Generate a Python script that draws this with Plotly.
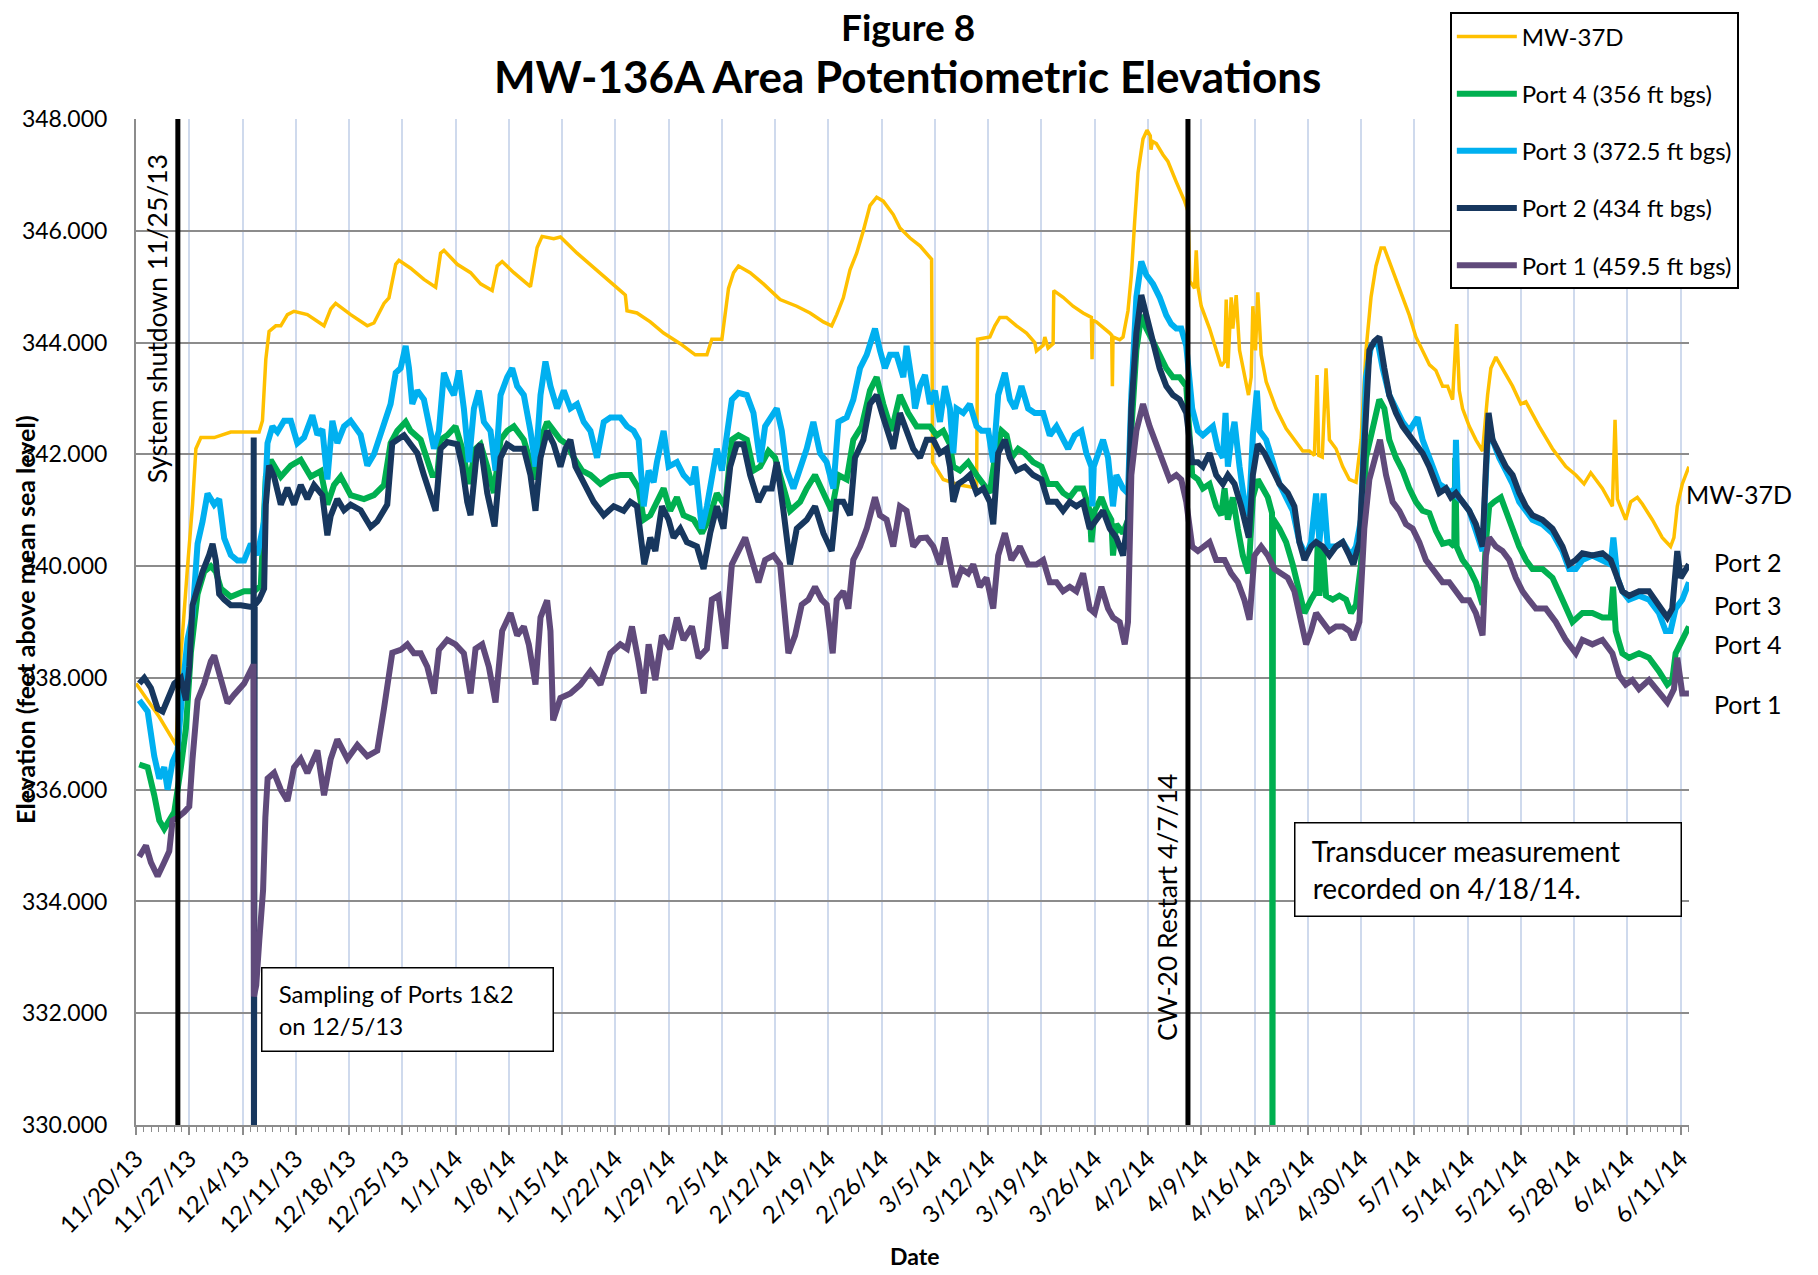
import pandas as pd
import plotly.graph_objects as go

START = pd.Timestamp("2013-11-20")
END_DAY = 204.1

# (days after 11/20/13, elevation ft amsl)
mw37d = [(0.0,337.9),(3.06,337.3),(5.25,336.8),(5.9,338.4),(6.78,340.0),(7.43,341.1),(7.87,342.1),(8.53,342.3),(10.28,342.3),(12.46,342.4),(16.18,342.4),(16.62,342.6),(17.06,343.7),(17.49,344.2),(18.37,344.3),(19.03,344.3),(19.9,344.5),(20.77,344.56),(22.52,344.5),(24.71,344.3),(25.59,344.6),(26.24,344.7),(28.21,344.5),(30.4,344.3),(31.27,344.35),(32.59,344.7),(33.24,344.8),(34.13,345.4),(34.56,345.47),(36.09,345.33),(37.84,345.13),(39.38,344.99),(40.03,345.6),(40.47,345.65),(42.22,345.4),(43.97,345.25),(45.28,345.05),(46.81,344.93),(47.47,345.37),(48.12,345.45),(49.66,345.25),(51.84,345.0),(52.72,345.7),(53.37,345.9),(54.9,345.86),(55.78,345.89),(57.97,345.6),(60.59,345.3),(63.65,344.93),(64.31,344.85),(64.53,344.57),(65.84,344.53),(67.59,344.37),(69.34,344.17),(71.53,343.98),(73.5,343.78),(75.03,343.78),(75.68,344.06),(77.0,344.06),(77.87,344.97),(78.53,345.25),(79.18,345.37),(80.71,345.25),(82.46,345.05),(84.65,344.77),(86.84,344.65),(88.59,344.53),(90.34,344.37),(91.43,344.3),(92.09,344.5),(92.96,344.8),(93.84,345.3),(94.71,345.6),(95.59,346.0),(96.46,346.45),(97.34,346.6),(98.21,346.53),(99.52,346.29),(100.4,346.05),(101.72,345.87),(103.03,345.73),(104.56,345.49),(104.69,341.86),(106.09,341.55),(108.28,341.45),(110.47,341.4),(110.6,344.06),(112.22,344.1),(112.87,344.3),(113.53,344.45),(114.41,344.45),(115.72,344.3),(117.03,344.17),(118.12,344.0),(118.34,343.85),(119.22,343.95),(119.44,344.1),(119.87,343.9),(120.53,343.98),(120.62,344.93),(121.84,344.81),(123.15,344.65),(124.47,344.53),(125.56,344.45),(125.65,343.7),(125.74,344.4),(126.22,344.37),(127.97,344.17),(128.23,344.13),(128.32,343.22),(128.4,344.1),(129.28,344.05),(129.72,344.1),(130.37,344.57),(130.81,345.2),(131.25,346.17),(131.69,347.04),(132.34,347.64),(132.87,347.8),(133.3,347.7),(133.39,347.45),(133.57,347.6),(134.09,347.56),(134.97,347.36),(135.62,347.24),(136.7,346.88),(137.81,346.53),(138.25,346.35),(138.5,345.1),(139.12,344.97),(139.34,345.65),(139.56,345.0),(140.0,344.65),(141.09,344.25),(141.96,343.86),(142.62,343.58),(143.06,343.66),(143.28,344.77),(143.5,343.54),(143.93,344.81),(144.15,344.25),(144.59,344.85),(145.03,343.86),(145.68,343.38),(146.21,343.06),(146.56,343.38),(146.78,344.65),(147.13,343.86),(147.43,344.9),(147.87,343.78),(148.53,343.3),(149.84,342.82),(151.15,342.46),(152.46,342.22),(153.34,342.06),(154.21,342.06),(154.87,341.98),(155.22,343.42),(155.44,341.98),(155.9,341.95),(156.4,343.54),(156.84,342.26),(157.71,342.1),(158.59,341.78),(159.46,341.55),(160.34,341.5),(161.0,342.26),(161.65,343.86),(162.31,344.81),(162.96,345.37),(163.62,345.69),(164.06,345.69),(164.71,345.45),(165.59,345.13),(166.46,344.81),(167.34,344.49),(168.21,344.1),(169.09,343.86),(170.0,343.6),(170.84,343.5),(171.72,343.22),(172.38,343.22),(173.03,342.98),(173.56,344.33),(173.91,343.14),(174.34,342.82),(175.22,342.5),(176.09,342.26),(176.97,342.06),(177.63,343.06),(178.06,343.54),(178.72,343.74),(179.59,343.54),(180.91,343.22),(182.0,342.9),(182.66,342.94),(184.41,342.5),(186.16,342.1),(187.91,341.78),(189.22,341.63),(190.31,341.47),(191.19,341.67),(192.72,341.39),(194.03,341.07),(194.38,342.62),(194.69,341.2),(195.78,340.83),(196.44,341.15),(197.31,341.23),(197.97,341.11),(199.28,340.83),(200.59,340.51),(201.68,340.35),(202.12,340.51),(202.56,341.07),(203.22,341.47),(204.09,341.78)]

port4 = [(0.43,336.45),(1.53,336.4),(2.4,335.9),(3.06,335.45),(3.71,335.3),(4.37,335.45),(5.03,335.6),(5.9,336.4),(6.56,337.1),(7.21,338.45),(8.09,339.5),(8.96,339.9),(9.84,340.0),(10.49,339.9),(11.15,339.6),(12.46,339.45),(14.21,339.55),(15.53,339.55),(16.4,339.65),(17.06,341.6),(17.71,341.9),(19.03,341.6),(20.34,341.8),(21.65,341.9),(22.96,341.6),(24.28,341.7),(25.15,341.1),(26.02,341.45),(26.9,341.6),(28.21,341.27),(29.96,341.2),(31.27,341.27),(32.59,341.45),(33.46,342.2),(34.34,342.42),(35.44,342.58),(36.09,342.42),(37.41,342.26),(38.28,341.94),(38.94,341.63),(39.59,341.63),(40.03,342.26),(40.91,342.34),(41.99,342.5),(42.88,342.1),(43.75,341.47),(44.62,342.1),(45.28,342.18),(46.16,341.78),(47.03,341.31),(47.91,342.26),(48.78,342.42),(49.66,342.5),(50.97,342.26),(51.84,341.86),(52.5,341.55),(53.16,342.26),(54.03,342.58),(54.9,342.42),(55.78,342.26),(56.66,342.18),(57.53,341.94),(58.62,341.71),(59.72,341.63),(61.03,341.47),(62.34,341.59),(63.65,341.63),(64.97,341.63),(66.06,341.39),(66.72,340.83),(67.59,340.91),(68.46,341.15),(69.34,341.39),(70.21,340.99),(71.09,341.23),(71.96,340.91),(73.28,340.83),(74.37,340.59),(75.25,340.83),(76.34,341.3),(77.43,341.07),(78.31,342.26),(79.18,342.34),(80.28,342.26),(81.15,341.71),(82.03,341.78),(83.12,342.06),(83.99,341.94),(84.87,341.47),(85.96,340.99),(87.28,341.15),(88.15,341.39),(89.24,341.63),(90.34,341.31),(91.43,340.99),(92.31,341.63),(93.4,341.55),(94.27,342.26),(95.37,342.5),(96.46,343.14),(97.34,343.38),(98.21,342.9),(99.3,342.42),(100.4,343.06),(101.49,342.74),(102.59,342.5),(103.47,342.5),(104.34,342.5),(105.22,342.34),(106.09,342.42),(106.97,342.18),(107.41,341.78),(108.28,341.71),(109.37,341.86),(110.47,341.63),(111.34,341.47),(112.22,341.31),(112.87,341.94),(113.75,342.42),(114.41,342.34),(115.06,341.94),(115.94,342.1),(116.81,342.02),(117.9,341.86),(119.0,341.78),(119.87,341.47),(120.97,341.47),(121.84,341.31),(122.72,341.23),(123.59,341.39),(124.47,341.39),(125.34,340.99),(125.56,340.43),(126.0,340.99),(126.87,341.23),(127.53,340.99),(128.18,340.83),(128.4,340.19),(128.84,340.75),(129.72,340.59),(130.37,340.83),(130.81,342.42),(131.47,343.86),(132.12,344.49),(132.78,344.25),(133.65,344.02),(134.53,343.78),(135.4,343.54),(136.28,343.38),(137.15,343.38),(138.03,343.22),(138.81,341.63),(139.56,341.55),(140.21,341.39),(141.09,341.47),(141.96,341.07),(142.62,340.91),(143.06,341.39),(143.5,340.83),(144.15,341.23),(144.81,340.67),(145.46,340.19),(146.21,339.87),(146.78,341.23),(147.43,341.55),(148.09,341.39),(148.75,341.23),(149.3,340.95),(149.36,329.0),(149.42,340.85),(150.28,340.67),(151.15,340.43),(152.02,340.03),(152.9,339.47),(153.56,339.16),(154.43,339.4),(155.09,339.55),(155.31,340.43),(155.53,339.47),(155.96,340.35),(156.4,339.47),(157.28,339.4),(158.15,339.47),(159.03,339.4),(159.68,339.16),(160.34,339.31),(160.99,340.03),(161.65,341.94),(162.52,342.5),(163.4,342.98),(164.06,342.82),(164.71,342.26),(165.59,341.94),(166.46,341.71),(167.34,341.39),(168.21,341.15),(169.09,340.99),(169.97,340.95),(170.84,340.63),(171.72,340.4),(172.59,340.43),(173.25,340.35),(173.38,341.94),(173.56,340.35),(174.34,340.11),(175.22,339.95),(176.09,339.71),(176.97,339.31),(177.41,340.43),(177.84,341.07),(178.5,341.15),(179.38,341.23),(180.03,340.99),(180.91,340.67),(181.78,340.35),(182.66,340.11),(183.53,339.95),(184.84,339.95),(186.16,339.79),(187.47,339.4),(188.78,339.0),(190.09,339.16),(191.4,339.16),(192.72,339.08),(193.81,339.08),(194.12,339.63),(194.47,338.84),(195.34,338.44),(196.22,338.36),(197.53,338.44),(198.84,338.36),(200.15,338.12),(201.25,337.88),(201.9,337.96),(202.34,338.44),(203.22,338.68),(204.09,338.92)]

port3 = [(0.43,337.6),(1.53,337.4),(2.4,336.6),(3.06,336.2),(3.71,336.4),(4.15,336.0),(4.81,336.5),(5.46,336.7),(6.12,337.8),(6.78,338.7),(7.43,339.1),(8.09,340.4),(8.75,340.8),(9.4,341.3),(10.28,341.1),(10.93,341.2),(11.59,340.5),(12.46,340.2),(13.34,340.1),(14.21,340.1),(15.09,340.4),(15.96,340.2),(16.84,340.8),(17.28,342.2),(17.93,342.5),(18.59,342.4),(19.46,342.6),(20.34,342.6),(21.21,342.2),(22.09,342.3),(23.18,342.7),(23.84,342.35),(24.49,342.45),(25.15,341.55),(25.81,342.6),(26.46,342.2),(27.34,342.5),(28.21,342.6),(29.52,342.35),(30.4,341.8),(31.27,342.0),(32.59,342.5),(33.46,342.9),(34.13,343.46),(34.78,343.54),(35.44,343.94),(35.88,343.54),(36.31,342.9),(36.97,343.14),(37.84,342.98),(38.5,342.5),(39.16,342.1),(39.81,342.42),(40.47,343.46),(41.13,343.22),(41.78,343.06),(42.44,343.5),(43.09,342.82),(43.75,341.86),(44.41,342.82),(45.06,343.14),(45.72,342.58),(46.59,342.42),(47.25,341.71),(47.91,343.06),(48.78,343.38),(49.44,343.54),(50.09,343.22),(50.97,343.06),(51.84,342.42),(52.5,341.78),(53.16,343.06),(53.81,343.66),(54.47,343.22),(55.34,342.82),(56.22,343.14),(57.09,342.82),(57.97,342.9),(58.84,342.58),(59.72,342.42),(60.59,341.94),(61.47,342.58),(62.34,342.66),(63.65,342.66),(64.53,342.5),(65.4,342.42),(66.06,342.26),(66.72,341.07),(67.37,341.71),(68.03,341.5),(68.46,341.86),(69.34,342.42),(70.0,341.78),(71.09,341.86),(71.96,341.63),(73.06,341.47),(73.5,341.78),(74.37,340.67),(75.03,341.07),(75.9,341.78),(76.34,342.1),(77.0,341.71),(77.65,342.26),(78.31,342.98),(79.18,343.1),(80.28,343.06),(81.15,342.74),(82.03,341.86),(82.68,342.5),(83.56,342.66),(84.21,342.82),(84.87,342.42),(85.53,341.71),(86.4,341.39),(87.28,341.71),(88.15,342.1),(89.02,342.58),(89.9,342.02),(90.77,341.86),(91.65,341.39),(92.31,342.58),(93.4,342.66),(94.27,342.98),(95.15,343.54),(96.03,343.78),(97.12,344.25),(97.77,343.86),(98.43,343.54),(99.09,343.78),(99.96,343.78),(100.84,343.38),(101.27,343.94),(102.15,343.14),(102.38,342.82),(103.03,343.22),(103.69,343.42),(104.34,342.9),(105.0,343.14),(105.66,342.58),(106.31,343.22),(106.97,342.82),(107.41,342.02),(107.84,342.82),(108.72,342.74),(109.59,342.9),(110.47,342.5),(111.13,342.42),(112.0,342.42),(112.66,341.86),(113.31,343.06),(114.19,343.46),(114.84,342.98),(115.5,342.82),(116.37,343.22),(117.25,342.82),(118.12,342.74),(119.22,342.74),(120.09,342.34),(120.97,342.5),(121.84,342.26),(122.5,342.1),(123.37,342.34),(124.25,342.42),(124.9,342.02),(125.56,341.78),(125.69,341.07),(125.87,341.78),(127.09,342.26),(127.75,341.94),(128.4,341.07),(128.84,341.63),(129.72,341.39),(130.37,341.3),(130.81,343.06),(131.47,344.81),(132.12,345.45),(132.78,345.21),(133.65,345.05),(134.53,344.81),(135.4,344.49),(136.06,344.33),(136.72,344.25),(137.37,344.25),(138.03,343.94),(138.81,342.82),(139.56,342.42),(140.21,342.34),(140.87,342.42),(141.53,342.5),(142.18,342.1),(142.84,341.94),(143.19,342.74),(143.5,341.78),(143.93,342.26),(144.37,342.58),(145.03,341.78),(145.68,341.15),(146.25,340.9),(146.78,342.34),(147.31,343.14),(147.65,342.42),(148.53,342.26),(149.4,341.86),(150.28,341.47),(151.15,341.23),(152.02,340.99),(152.9,340.43),(153.78,340.19),(154.43,340.43),(155.09,341.3),(155.53,340.43),(156.09,341.3),(156.62,340.35),(157.71,340.35),(158.59,340.43),(159.68,340.19),(160.34,340.35),(160.99,340.83),(161.65,343.38),(162.31,343.94),(163.18,344.02),(163.84,343.54),(164.71,343.06),(165.59,342.82),(166.46,342.58),(167.34,342.42),(168.43,342.66),(169.09,342.26),(169.96,341.95),(170.63,341.71),(171.28,341.47),(172.16,341.39),(172.81,341.31),(173.38,341.4),(173.47,342.26),(173.69,341.23),(174.34,341.15),(175.22,340.99),(176.09,340.67),(176.97,340.27),(177.41,341.63),(177.76,342.58),(178.28,342.26),(179.16,341.94),(180.03,341.71),(180.91,341.47),(181.78,341.15),(182.66,340.99),(183.53,340.83),(184.84,340.75),(186.16,340.59),(187.47,340.27),(188.34,339.95),(189.22,339.95),(190.09,340.11),(191.4,340.19),(192.72,340.11),(193.81,340.03),(194.16,340.51),(194.69,339.79),(195.34,339.55),(196.22,339.4),(197.53,339.47),(198.84,339.4),(200.15,339.16),(201.03,338.84),(201.68,338.84),(202.34,339.24),(203.22,339.4),(204.09,339.71)]

port2 = [(0.43,337.9),(1.09,338.0),(1.96,337.82),(2.84,337.45),(3.5,337.4),(4.15,337.6),(5.03,337.9),(5.9,338.0),(6.56,337.6),(7.0,338.2),(7.43,339.3),(8.09,339.6),(8.75,339.9),(9.62,340.2),(10.06,340.4),(10.49,340.1),(10.93,339.5),(11.59,339.4),(12.46,339.3),(13.78,339.3),(15.09,339.27),(15.44,339.3),(15.47,342.3),(15.5,329.0),(15.6,339.3),(16.18,339.4),(16.84,339.6),(17.06,341.1),(17.49,341.8),(18.15,341.6),(19.03,341.1),(19.9,341.4),(20.77,341.1),(21.65,341.45),(22.52,341.2),(23.4,341.45),(24.49,341.27),(25.15,340.55),(25.59,340.9),(26.46,341.2),(27.34,341.0),(28.21,341.1),(29.52,341.0),(30.84,340.7),(31.71,340.8),(33.02,341.1),(33.68,342.2),(34.34,342.26),(35.22,342.34),(36.09,342.18),(36.97,342.02),(37.84,341.63),(38.72,341.23),(39.38,340.99),(40.03,342.1),(40.91,342.22),(42.22,342.18),(42.88,341.78),(43.53,341.15),(43.97,340.91),(44.84,342.1),(45.28,342.18),(46.16,341.31),(47.12,340.71),(47.91,341.94),(48.78,342.18),(49.66,342.1),(50.97,342.1),(51.84,341.63),(52.5,340.99),(53.16,341.94),(54.03,342.42),(54.9,342.18),(55.78,341.78),(56.44,342.1),(57.09,342.26),(57.75,341.78),(58.84,341.47),(60.15,341.15),(61.47,340.91),(62.78,341.07),(64.09,340.99),(64.97,341.15),(65.84,341.07),(66.28,340.51),(66.8,340.03),(67.59,340.51),(68.25,340.27),(69.12,341.07),(70.0,340.83),(70.65,340.51),(71.53,340.67),(72.4,340.43),(73.72,340.35),(74.59,339.95),(75.46,340.59),(76.34,341.07),(77.21,340.67),(78.09,341.78),(78.96,342.18),(79.84,342.18),(80.71,341.63),(81.81,341.15),(82.68,341.39),(83.56,341.39),(84.21,341.86),(85.09,340.99),(85.96,340.03),(86.84,340.67),(88.15,340.83),(89.24,341.07),(90.34,340.59),(91.43,340.27),(92.09,341.15),(92.96,341.15),(93.84,340.91),(94.49,341.94),(95.59,342.26),(96.46,342.9),(97.34,343.06),(98.21,342.66),(99.52,342.1),(100.4,342.74),(101.27,342.42),(102.15,342.1),(103.03,341.94),(103.91,342.26),(104.78,342.26),(105.66,342.02),(106.53,342.1),(106.97,341.78),(107.41,341.15),(108.06,341.47),(108.94,341.55),(109.59,341.63),(110.47,341.31),(111.34,341.39),(112.22,341.15),(112.66,340.75),(113.31,342.02),(114.19,342.26),(114.84,341.94),(115.72,341.71),(116.81,341.78),(117.9,341.63),(119.0,341.55),(119.87,341.15),(120.97,341.15),(121.84,340.99),(122.72,341.15),(123.59,341.07),(124.47,341.15),(125.34,340.67),(126.22,340.83),(127.09,340.99),(127.97,340.67),(128.84,340.51),(129.72,340.19),(130.37,340.83),(130.81,342.82),(131.47,344.17),(132.12,344.85),(132.78,344.49),(133.65,343.94),(134.53,343.54),(135.4,343.22),(136.28,343.06),(137.15,342.98),(138.03,342.74),(138.81,341.86),(139.56,341.86),(140.21,341.78),(141.09,342.02),(141.96,341.63),(142.84,341.47),(143.5,341.63),(144.37,341.47),(145.25,341.07),(146.25,340.51),(146.78,341.63),(147.43,342.18),(148.31,342.02),(149.4,341.71),(150.28,341.47),(151.37,341.31),(152.24,341.07),(152.9,340.43),(153.56,340.11),(154.43,340.35),(155.09,340.43),(155.96,340.35),(156.84,340.19),(157.71,340.35),(158.59,340.43),(159.46,340.19),(159.99,340.03),(160.78,340.43),(161.43,342.42),(162.09,343.86),(162.74,344.02),(163.4,344.1),(164.06,343.54),(164.71,343.06),(165.59,342.74),(166.46,342.5),(167.34,342.34),(168.21,342.18),(169.09,342.02),(169.96,341.78),(170.63,341.55),(171.28,341.31),(172.16,341.39),(172.81,341.23),(173.47,341.31),(174.34,341.15),(175.22,340.99),(176.09,340.75),(176.97,340.35),(177.41,341.78),(177.76,342.74),(178.28,342.26),(179.16,342.02),(180.03,341.78),(180.91,341.63),(181.78,341.31),(182.66,341.07),(183.53,340.91),(184.84,340.83),(186.16,340.67),(187.47,340.35),(188.34,340.03),(189.22,340.11),(190.09,340.23),(191.4,340.19),(192.72,340.23),(193.81,340.11),(194.69,339.79),(195.34,339.55),(196.22,339.47),(197.53,339.55),(198.84,339.55),(200.15,339.31),(201.25,339.08),(201.9,339.24),(202.56,340.27),(203.0,339.79),(204.09,340.03)]

port1 = [(0.43,334.8),(1.31,335.0),(1.96,334.7),(2.84,334.45),(3.71,334.7),(4.37,334.9),(4.81,335.45),(5.46,335.5),(6.34,335.6),(7.0,335.7),(7.43,336.55),(8.09,337.6),(8.96,337.9),(9.84,338.3),(10.28,338.4),(10.93,338.1),(12.03,337.55),(12.9,337.7),(14.21,337.9),(15.31,338.2),(15.45,338.2),(15.5,332.3),(15.8,332.5),(16.2,333.3),(16.7,334.2),(17.0,335.5),(17.3,336.2),(18.15,336.3),(19.03,336.0),(19.9,335.8),(20.77,336.4),(21.65,336.55),(22.52,336.3),(23.84,336.7),(24.71,335.9),(25.59,336.55),(26.46,336.9),(27.78,336.55),(29.09,336.8),(30.4,336.6),(31.71,336.7),(32.59,337.45),(33.68,338.45),(34.78,338.5),(35.66,338.6),(36.53,338.44),(37.41,338.44),(38.28,338.2),(39.16,337.72),(39.81,338.5),(40.91,338.68),(41.99,338.6),(43.09,338.44),(43.97,337.72),(44.62,338.52),(45.5,338.6),(46.37,338.2),(47.25,337.56),(48.12,338.84),(49.22,339.16),(50.09,338.76),(50.97,338.92),(51.62,338.6),(52.5,337.88),(53.16,339.08),(54.03,339.39),(54.47,338.84),(54.82,337.24),(55.78,337.64),(57.09,337.72),(58.4,337.88),(59.72,338.12),(61.03,337.88),(62.34,338.44),(63.65,338.6),(64.53,338.52),(65.18,338.92),(66.06,338.28),(66.72,337.72),(67.37,338.6),(68.25,337.96),(69.12,338.76),(70.21,338.52),(71.09,339.08),(71.96,338.68),(73.06,338.92),(73.93,338.36),(75.03,338.52),(75.68,339.4),(76.56,339.47),(77.43,338.52),(78.31,340.03),(79.18,340.27),(80.06,340.51),(80.93,340.11),(81.81,339.71),(82.68,340.11),(83.78,340.19),(84.65,340.03),(85.09,339.4),(85.74,338.44),(86.62,338.76),(87.49,339.31),(88.37,339.4),(89.24,339.63),(90.12,339.4),(90.77,339.31),(91.56,338.44),(92.09,339.4),(92.96,339.55),(93.62,339.24),(94.27,340.11),(95.15,340.35),(96.03,340.67),(97.12,341.23),(97.77,340.91),(98.65,340.83),(99.52,340.35),(100.4,341.07),(101.27,340.99),(102.15,340.35),(103.03,340.5),(103.91,340.51),(104.78,340.35),(105.66,340.03),(106.31,340.51),(106.97,340.11),(107.62,339.63),(108.5,339.95),(109.37,339.87),(110.03,340.03),(110.9,339.63),(111.78,339.79),(112.66,339.24),(113.31,340.19),(114.19,340.59),(115.06,340.11),(116.16,340.35),(117.25,340.03),(118.34,340.03),(119.22,340.11),(120.09,339.71),(120.97,339.71),(121.84,339.55),(122.72,339.63),(123.59,339.55),(124.47,339.87),(125.34,339.24),(125.99,339.16),(126.87,339.63),(127.75,339.24),(128.4,339.08),(129.28,339.0),(129.94,338.6),(130.37,339.0),(130.81,341.63),(131.47,342.42),(132.34,342.9),(133.21,342.5),(134.09,342.18),(134.97,341.86),(135.84,341.55),(136.72,341.63),(137.37,341.55),(138.03,341.15),(138.81,340.35),(139.56,340.27),(140.21,340.35),(141.09,340.43),(141.96,340.11),(143.06,340.11),(143.93,339.87),(144.81,339.71),(145.68,339.39),(146.34,339.04),(146.99,340.19),(147.87,340.35),(148.75,340.19),(149.62,339.95),(150.5,339.87),(151.37,339.79),(152.24,339.55),(153.12,339.0),(153.78,338.6),(154.43,338.84),(155.09,339.16),(155.96,339.0),(156.84,338.84),(157.71,338.92),(158.59,338.92),(159.46,338.84),(159.99,338.68),(160.78,339.0),(161.43,340.67),(162.09,341.55),(162.74,341.86),(163.49,342.26),(164.28,341.63),(165.15,341.15),(166.03,340.99),(166.9,340.75),(167.78,340.67),(168.65,340.43),(169.52,340.11),(170.4,339.95),(170.84,339.87),(171.72,339.71),(172.59,339.71),(173.47,339.55),(174.34,339.39),(175.22,339.39),(176.09,339.16),(176.97,338.76),(177.41,340.19),(177.84,340.51),(178.72,340.35),(179.59,340.27),(180.47,340.11),(181.34,339.79),(182.22,339.55),(183.09,339.39),(183.97,339.24),(185.28,339.24),(186.59,339.0),(187.91,338.68),(189.22,338.44),(190.09,338.68),(191.4,338.6),(192.72,338.68),(194.03,338.44),(194.9,338.04),(195.78,337.88),(196.65,337.96),(197.53,337.8),(198.84,337.96),(200.15,337.72),(201.25,337.56),(202.12,337.8),(202.56,338.36),(203.22,337.72),(204.09,337.72)]

series_names = ["MW-37D", "Port 4 (356 ft bgs)", "Port 3 (372.5 ft bgs)",
                "Port 2 (434 ft bgs)", "Port 1 (459.5 ft bgs)"]
series_data = [mw37d, port4, port3, port2, port1]
series_colors = ["#FFC000", "#00B050", "#00B0F0", "#17375E", "#604A7B"]
series_widths = [3.5, 6, 6, 6, 6]

end_labels = ["MW-37D", "Port 2", "Port 3", "Port 4", "Port 1"]
end_label_y = [341.29, 340.08, 339.31, 338.6, 337.53]

events = [("2013-11-25 12:00", "System shutdown 11/25/13", 344.43),
          ("2014-04-07 06:00", "CW-20 Restart 4/7/14", 333.9)]

FONT = "Lato"


def to_xy(pairs):
    days, ft = zip(*pairs)
    return START + pd.to_timedelta(list(days), unit="D"), list(ft)


fig = go.Figure()
for name, data, color, w in zip(series_names, series_data, series_colors, series_widths):
    x, y = to_xy(data)
    fig.add_trace(go.Scatter(x=x, y=y, mode="lines", name=name, legendgroup=name,
                             line=dict(color=color, width=w)))

for when, text, ymid in events:
    fig.add_shape(type="line", xref="x", yref="paper", x0=when, x1=when, y0=0, y1=1,
                  line=dict(color="black", width=5))
    fig.add_annotation(x=when, y=ymid, xref="x", yref="y", text=text, textangle=-90,
                       showarrow=False, xanchor="right", yanchor="middle", xshift=-3,
                       font=dict(family=FONT, size=26.5, color="black"))

for label, yv in zip(end_labels, end_label_y):
    fig.add_annotation(x=0.997 if label == "MW-37D" else 1.015, y=yv, xref="paper", yref="y",
                       text=label, showarrow=False, xanchor="left", yanchor="middle",
                       font=dict(family=FONT, size=25, color="black"))

# note boxes
fig.add_annotation(x=START + pd.Timedelta(days=16.4), y=332.07, xref="x", yref="y",
                   text="&nbsp;Sampling of Ports 1&2<br>&nbsp;on 12/5/13", showarrow=False,
                   xanchor="left", yanchor="middle", align="left", width=270, height=62,
                   bordercolor="black", borderwidth=1.5, borderpad=10, bgcolor="white",
                   font=dict(family=FONT, size=24, color="black"))
fig.add_annotation(x=START + pd.Timedelta(days=152.25), y=334.58, xref="x", yref="y",
                   text="&nbsp;Transducer measurement<br>&nbsp;recorded on 4/18/14.",
                   showarrow=False, xanchor="left", yanchor="middle", align="left",
                   width=365, height=72,
                   bordercolor="black", borderwidth=1.5, borderpad=10, bgcolor="white",
                   font=dict(family=FONT, size=28, color="black"))

# titles
fig.add_annotation(x=0.497, y=1.0922, xref="paper", yref="paper", text="<b>Figure 8</b>",
                   showarrow=False, xanchor="center", yanchor="middle",
                   font=dict(family=FONT, size=37, color="black"))
fig.add_annotation(x=0.497, y=1.0426, xref="paper", yref="paper",
                   text="<b>MW-136A Area Potentiometric Elevations</b>",
                   showarrow=False, xanchor="center", yanchor="middle",
                   font=dict(family=FONT, size=44, color="black"))
fig.add_annotation(x=-0.0712, y=0.5025, xref="paper", yref="paper",
                   text="<b>Elevation (feet above mean sea level)</b>", textangle=-90,
                   showarrow=False, xanchor="center", yanchor="middle",
                   font=dict(family=FONT, size=25, color="black"))
fig.add_annotation(x=0.501, y=-0.13, xref="paper", yref="paper", text="<b>Date</b>",
                   showarrow=False, xanchor="center", yanchor="middle",
                   font=dict(family=FONT, size=23, color="black"))

fig.update_layout(
    width=1818, height=1275, autosize=False,
    margin=dict(l=136, r=129, t=116, b=150),
    paper_bgcolor="white", plot_bgcolor="white",
    font=dict(family=FONT, color="black"),
    showlegend=True,
    legend=dict(x=0.846, y=1.106, xanchor="left", yanchor="top",
                bordercolor="black", borderwidth=2, bgcolor="white",
                font=dict(family=FONT, size=24, color="black"),
                itemwidth=60, tracegroupgap=23, traceorder="grouped"),
)
fig.update_xaxes(
    type="date", range=[START, START + pd.Timedelta(days=END_DAY)],
    tick0=START, dtick=7 * 86400000, tickformat="%-m/%-d/%y", tickangle=-45,
    tickfont=dict(family=FONT, size=24, color="black"),
    showgrid=True, gridcolor="#CFDAED", gridwidth=2,
    showline=True, linecolor="#8C8C8C", linewidth=2,
    ticks="outside", ticklen=8, tickwidth=2, tickcolor="#8C8C8C",
    minor=dict(dtick=86400000, ticks="outside", ticklen=5, tickwidth=1,
               tickcolor="#8C8C8C", showgrid=False),
    zeroline=False,
)
fig.update_yaxes(
    range=[330, 348], dtick=2, tickformat=".3f",
    tickfont=dict(family=FONT, size=23, color="black"),
    showgrid=True, gridcolor="#8C8C8C", gridwidth=2,
    showline=True, linecolor="#8C8C8C", linewidth=2,
    ticks="", ticklabelstandoff=22,
    zeroline=False,
)

fig.write_html("out.html", config={"displayModeBar": False},
               post_script="document.body.style.margin='0px';")
